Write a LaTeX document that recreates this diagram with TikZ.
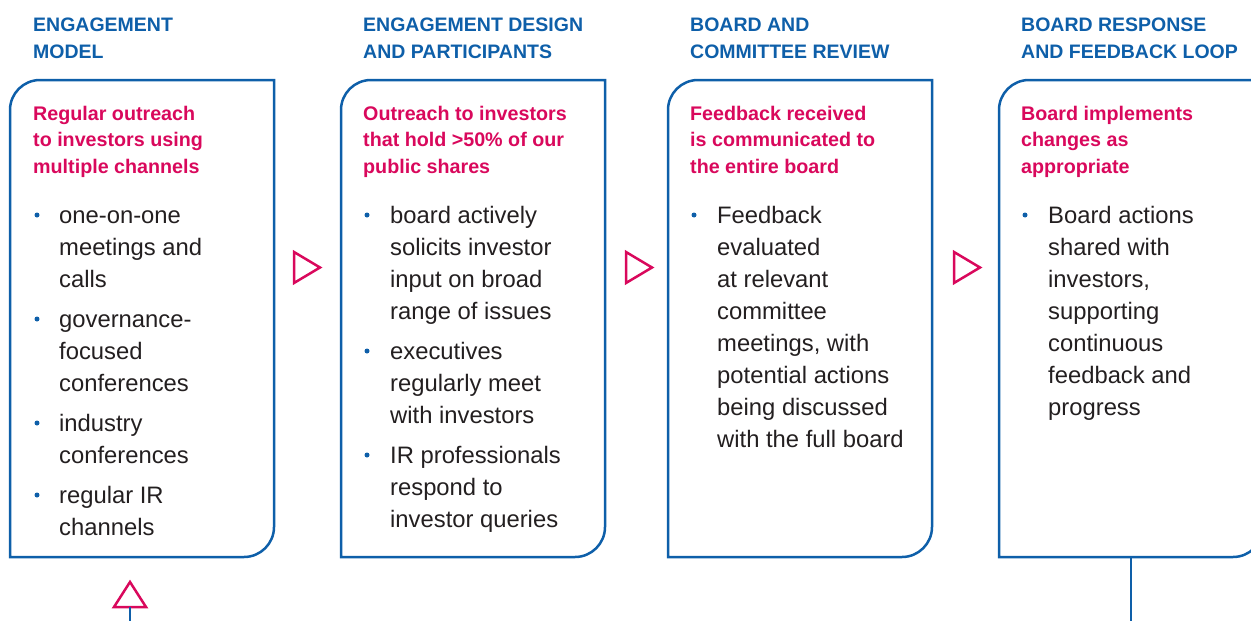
\documentclass[tikz,border=0pt]{standalone}
\usepackage{fontspec}
\setmainfont{Liberation Sans}
\definecolor{cblue}{HTML}{0E5FA9}
\definecolor{cmag}{HTML}{D9085C}
\definecolor{ctext}{HTML}{231F20}
\tikzset{
  hdr/.style={anchor=base west, align=left, inner sep=0pt, text=cblue, font=\bfseries\fontsize{19.5}{26.7}\selectfont},
  sub/.style={anchor=base west, align=left, inner sep=0pt, text=cmag, font=\bfseries\fontsize{19.7}{26.7}\selectfont},
  body/.style={anchor=base west, align=left, inner sep=0pt, text=ctext, font=\fontsize{23.8}{32}\selectfont},
  bul/.style={circle, fill=cblue, inner sep=0pt, minimum size=5pt},
  boxline/.style={draw=cblue, line width=2.5pt},
  tri/.style={draw=cmag, line width=2.5pt, line join=miter},
  link/.style={draw=cblue, line width=2.5pt},
}
\newcommand{\stagebox}[2]{% left x, name
  \draw[boxline] (#1,557) -- (#1,110) arc[start angle=180,end angle=270,radius=30] -- (#1+264,80) -- (#1+264,527) arc[start angle=0,end angle=90,radius=30] -- cycle;
  \coordinate (#2) at (#1,80);
}
\begin{document}
\begin{tikzpicture}[x=1pt,y=-1pt]
\useasboundingbox (0,0) rectangle (1251,621);
\clip (0,0) rectangle (1251,621);

% boxes
\stagebox{10}{b1}
\stagebox{341}{b2}
\stagebox{668}{b3}
\stagebox{999}{b4}

% headers (anchor = baseline of last line)
\node[hdr] (h1) at (33,58.2) {ENGAGEMENT\\MODEL};
\node[hdr] (h2) at (363,58.2) {ENGAGEMENT DESIGN\\AND PARTICIPANTS};
\node[hdr] (h3) at (690,58.2) {BOARD AND\\COMMITTEE REVIEW};
\node[hdr] (h4) at (1021,58.2) {BOARD RESPONSE\\AND FEEDBACK LOOP};

% subtitles
\node[sub] (s1) at (33,173.4) {Regular outreach\\to investors using\\multiple channels};
\node[sub] (s2) at (363,173.4) {Outreach to investors\\that hold >50\% of our\\public shares};
\node[sub] (s3) at (690,173.4) {Feedback received\\is communicated to\\the entire board};
\node[sub] (s4) at (1021,173.4) {Board implements\\changes as\\appropriate};

% box 1 items
\node[bul] (d11) at (37,215) {};
\node[body] (t11) at (59,287) {one-on-one\\meetings and\\calls};
\node[bul] (d12) at (37,319) {};
\node[body] (t12) at (59,391) {governance-\\focused\\conferences};
\node[bul] (d13) at (37,423) {};
\node[body] (t13) at (59,463) {industry\\conferences};
\node[bul] (d14) at (37,495) {};
\node[body] (t14) at (59,535) {regular IR\\channels};

% box 2 items
\node[bul] (d21) at (367,215) {};
\node[body] (t21) at (390,319) {board actively\\solicits investor\\input on broad\\range of issues};
\node[bul] (d22) at (367,351) {};
\node[body] (t22) at (390,423) {executives\\regularly meet\\with investors};
\node[bul] (d23) at (367,455) {};
\node[body] (t23) at (390,527) {IR professionals\\respond to\\investor queries};

% box 3 items
\node[bul] (d31) at (694,215) {};
\node[body] (t31) at (717,447) {Feedback\\evaluated\\at relevant\\committee\\meetings, with\\potential actions\\being discussed\\with the full board};

% box 4 items
\node[bul] (d41) at (1025,215) {};
\node[body] (t41) at (1048,415) {Board actions\\shared with\\investors,\\supporting\\continuous\\feedback and\\progress};

% flow triangles
\draw[tri] (294,252) -- (294,283) -- (320,267.5) -- cycle;
\draw[tri] (626,252) -- (626,283) -- (652,267.5) -- cycle;
\draw[tri] (954,252) -- (954,283) -- (980,267.5) -- cycle;

% feedback loop ends
\coordinate (loopin) at (130,607);
\coordinate (loopinEnd) at (130,621);
\draw[tri] (114,607) -- (146,607) -- (130,582) -- cycle;
\draw[link] (loopin) -- (loopinEnd);
\coordinate (loopout) at (1131,557);
\coordinate (loopoutEnd) at (1131,621);
\draw[link] (loopout) -- (loopoutEnd);
\end{tikzpicture}
\end{document}
